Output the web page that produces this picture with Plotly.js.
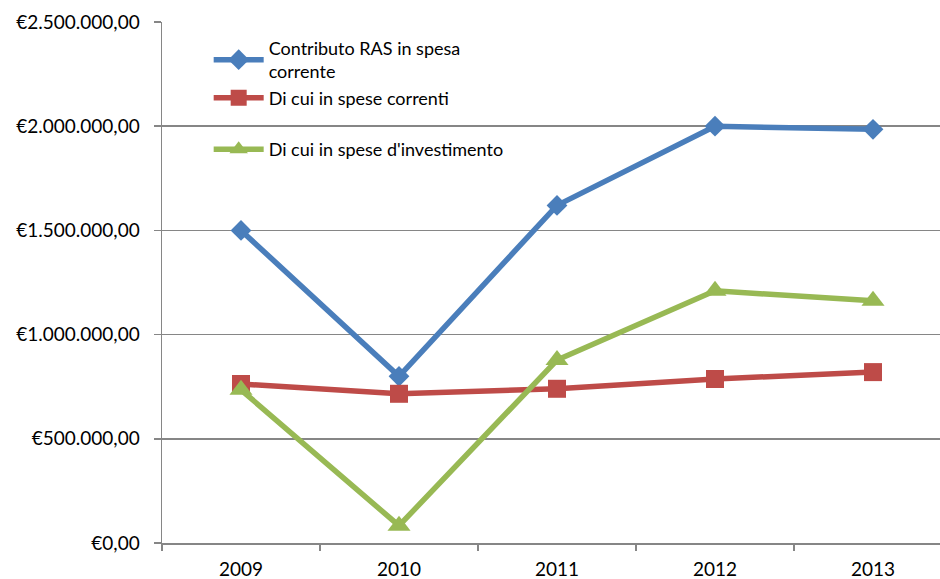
<!DOCTYPE html>
<html>
<head>
<meta charset="utf-8">
<script src="https://cdn.plot.ly/plotly-3.0.1.min.js"></script>
<style>html,body{margin:0;padding:0;background:#fff;}#chart{width:940px;height:579px;}</style>
</head>
<body>
<div id="chart"></div>
<script>
const years = ["2009", "2010", "2011", "2012", "2013"];
const contributoRAS = [1500000, 800000, 1620000, 2000000, 1985000];
const speseCorrenti = [763000, 716000, 740000, 787000, 820000];
const speseInvestimento = [735000, 83000, 878000, 1210000, 1162000];
const seriesNames = ["Contributo RAS in spesa<br>corrente", "Di cui in spese correnti", "Di cui in spese d'investimento"];

const fontFam = "Lato, Open Sans, sans-serif";
const traces = [
  {x: years, y: contributoRAS, name: seriesNames[0], type: "scatter", mode: "lines+markers",
   line: {color: "#4A7EBB", width: 5.5}, marker: {symbol: "diamond", size: 16, color: "#4A7EBB"}, legendgroup: "a"},
  {x: years, y: speseCorrenti, name: seriesNames[1], type: "scatter", mode: "lines+markers",
   line: {color: "#BE4B48", width: 5.5}, marker: {symbol: "square", size: 18, color: "#BE4B48"}, legendgroup: "a"},
  {x: years, y: speseInvestimento, name: seriesNames[2], type: "scatter", mode: "lines+markers",
   line: {color: "#98B954", width: 5.5}, marker: {symbol: "triangle-up", size: 20, color: "#98B954"}, legendgroup: "b"}
];

const layout = {
  width: 940, height: 579,
  margin: {l: 162, r: 0, t: 22, b: 36},
  paper_bgcolor: "#fff", plot_bgcolor: "#fff",
  separators: ",.",
  font: {family: fontFam, size: 19, color: "#000"},
  showlegend: true,
  legend: {x: 0.06, y: 0.985, xanchor: "left", yanchor: "top", bgcolor: "rgba(0,0,0,0)",
           font: {size: 18, color: "#000"}, traceorder: "grouped", tracegroupgap: 25, itemwidth: 50},
  xaxis: {type: "category", range: [-0.5, 4.424], showgrid: false, showline: true, linecolor: "#868686", linewidth: 1.5,
          ticks: "outside", tickson: "boundaries", ticklen: 6, tickcolor: "#868686", tickwidth: 1.5,
          tickfont: {size: 19}, zeroline: false, fixedrange: true, ticklabelstandoff: 9},
  yaxis: {range: [0, 2500000], dtick: 500000, tickprefix: "€", tickformat: ",.2f",
          showgrid: true, gridcolor: "#868686", gridwidth: 1.5, showline: true, linecolor: "#868686", linewidth: 1.5,
          ticks: "outside", ticklen: 7, tickcolor: "#868686", tickwidth: 1.5, zeroline: false,
          tickfont: {size: 19}, ticklabelstandoff: 10}
};
Plotly.newPlot("chart", traces, layout, {displayModeBar: false, staticPlot: true});
</script>
</body>
</html>
